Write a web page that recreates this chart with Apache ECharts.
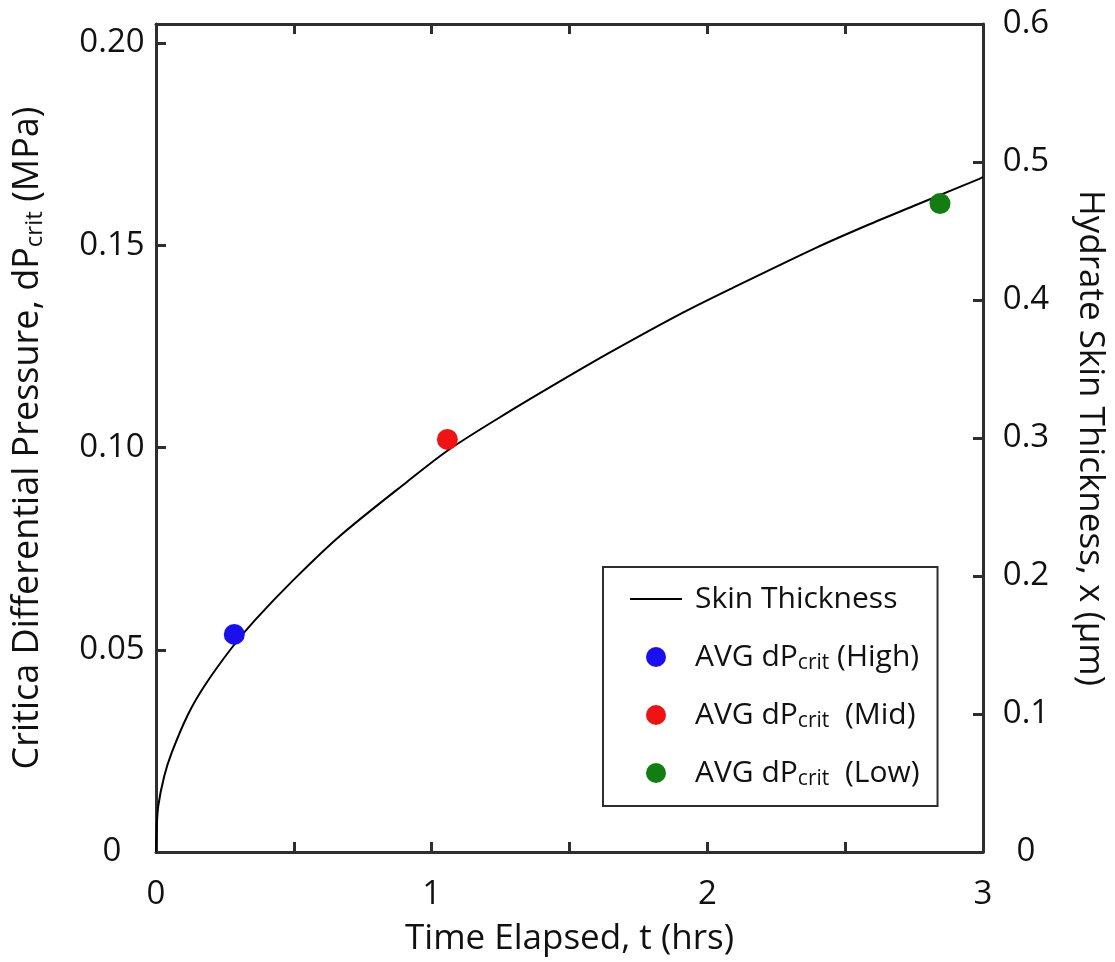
<!DOCTYPE html>
<html>
<head>
<meta charset="utf-8">
<script src="https://cdn.jsdelivr.net/npm/echarts@6/dist/echarts.min.js"></script>
<style>
html,body{margin:0;padding:0;background:#fff;}
#chart{width:1115px;height:962px;}
</style>
</head>
<body>
<div id="chart"></div>
<script>
// Skin thickness curve (right axis, µm) vs time (hrs)
const curveT = [0, 0.002, 0.008, 0.03, 0.057, 0.117, 0.178, 0.275, 0.359, 0.498, 0.667, 0.909, 1.066, 1.272, 1.465, 1.647, 1.913, 2.094, 2.396, 2.578, 2.759, 2.989, 3.0];
const curveX = [0, 0.015, 0.033, 0.055, 0.072, 0.100, 0.121, 0.148, 0.168, 0.197, 0.229, 0.268, 0.292, 0.318, 0.341, 0.362, 0.391, 0.409, 0.438, 0.454, 0.469, 0.488, 0.489];
// Average critical differential pressure points (left axis, MPa)
const highPoint = [0.284, 0.0538];
const midPoint  = [1.057, 0.1020];
const lowPoint  = [2.844, 0.1603];
const seriesNames = ['Skin Thickness', 'AVG dPcrit (High)', 'AVG dPcrit (Mid)', 'AVG dPcrit (Low)'];
const legendLabels = {
  'Skin Thickness': 'Skin Thickness',
  'AVG dPcrit (High)': 'AVG dP{sub|crit} (High)',
  'AVG dPcrit (Mid)': 'AVG dP{sub|crit}  (Mid)',
  'AVG dPcrit (Low)': 'AVG dP{sub|crit}  (Low)'
};
const xTicks = [0, 1, 2, 3];

const FONT = 'Open Sans';
const AX = '#2e2e2e';
const subRich = (fs) => ({ fontFamily: FONT, fontSize: fs, color: '#111', lineHeight: fs, padding: [Math.round(fs*0.6), 0, 0, 0] });

const chart = echarts.init(document.getElementById('chart'), null, {renderer: 'canvas'});
const axisLineStyle = { show: true, onZero: false, lineStyle: { color: AX, width: 3 } };
const tickStyle = (show) => ({ show: show, inside: true, length: 10, lineStyle: { color: AX, width: 3 } });

chart.setOption({
  animation: false,
  backgroundColor: '#fff',
  grid: { left: 156, right: 132, top: 24, bottom: 110, containLabel: false },
  legend: {
    orient: 'vertical',
    left: 603, top: 567,
    padding: [15, 18, 16, 27],
    borderColor: AX, borderWidth: 2,
    itemGap: 24,
    itemWidth: 52, itemHeight: 20,
    data: [
      { name: seriesNames[0], icon: 'path://M0,0L100,0L100,4L0,4Z', itemStyle: { color: '#000' } },
      seriesNames[1], seriesNames[2], seriesNames[3]
    ],
    formatter: (n) => legendLabels[n],
    textStyle: {
      fontFamily: FONT, fontSize: 30, color: '#111', lineHeight: 34,
      padding: [0, 0, 0, 8],
      rich: { sub: subRich(21) }
    }
  },
  xAxis: [{
    type: 'value', min: 0, max: 3, interval: 0.5, position: 'bottom',
    axisLine: axisLineStyle, axisTick: tickStyle(true), splitLine: { show: false },
    axisLabel: {
      margin: 26, fontFamily: FONT, fontSize: 33, color: '#111',
      formatter: (v) => xTicks.indexOf(v) >= 0 ? String(v) : ''
    },
    name: 'Time Elapsed, t (hrs)', nameLocation: 'middle', nameGap: 70,
    nameTextStyle: { fontFamily: FONT, fontSize: 35, color: '#111' }
  }, {
    type: 'value', min: 0, max: 3, interval: 0.5, position: 'top',
    axisLine: axisLineStyle, axisTick: tickStyle(true), axisLabel: { show: false }, splitLine: { show: false }
  }],
  yAxis: [{
    type: 'value', min: 0, max: 0.2047, interval: 0.05, position: 'left',
    axisLine: axisLineStyle, axisTick: tickStyle(true), splitLine: { show: false },
    axisLabel: {
      margin: 44, align: 'center', showMaxLabel: false,
      fontFamily: FONT, fontSize: 33, color: '#111',
      formatter: (v) => v === 0 ? '0' : (v > 0.2041 ? '' : v.toFixed(2))
    },
    name: 'Critica Differential Pressure, dP{sub|crit} (MPa)',
    nameLocation: 'middle', nameGap: 108,
    nameTextStyle: { fontFamily: FONT, fontSize: 36, color: '#111', lineHeight: 40, rich: { sub: subRich(24) } }
  }, {
    type: 'value', min: 0, max: 0.6, interval: 0.1, position: 'right',
    axisLine: axisLineStyle, axisTick: tickStyle(true), splitLine: { show: false },
    axisLabel: {
      margin: 43, align: 'center',
      fontFamily: FONT, fontSize: 33, color: '#111',
      formatter: (v) => v === 0 ? '0' : v.toFixed(1)
    },
    name: 'Hydrate Skin Thickness, x (µm)', nameLocation: 'middle', nameGap: 89, nameRotate: -90,
    nameTextStyle: { fontFamily: FONT, fontSize: 35, color: '#111' }
  }],
  series: [{
    name: seriesNames[0], type: 'line', xAxisIndex: 0, yAxisIndex: 1,
    data: curveT.map((t, i) => [t, curveX[i]]),
    symbol: 'none', showSymbol: false, smooth: 0.3,
    lineStyle: { color: '#000', width: 2 }, itemStyle: { color: '#000' }, z: 2
  }, {
    name: seriesNames[1], type: 'scatter', xAxisIndex: 0, yAxisIndex: 0,
    data: [highPoint], symbolSize: 21, itemStyle: { color: '#1a10ee', opacity: 1 }, z: 3
  }, {
    name: seriesNames[2], type: 'scatter', xAxisIndex: 0, yAxisIndex: 0,
    data: [midPoint], symbolSize: 21, itemStyle: { color: '#ee1414', opacity: 1 }, z: 3
  }, {
    name: seriesNames[3], type: 'scatter', xAxisIndex: 0, yAxisIndex: 0,
    data: [lowPoint], symbolSize: 21, itemStyle: { color: '#137d13', opacity: 1 }, z: 3
  }]
});
</script>
</body>
</html>
